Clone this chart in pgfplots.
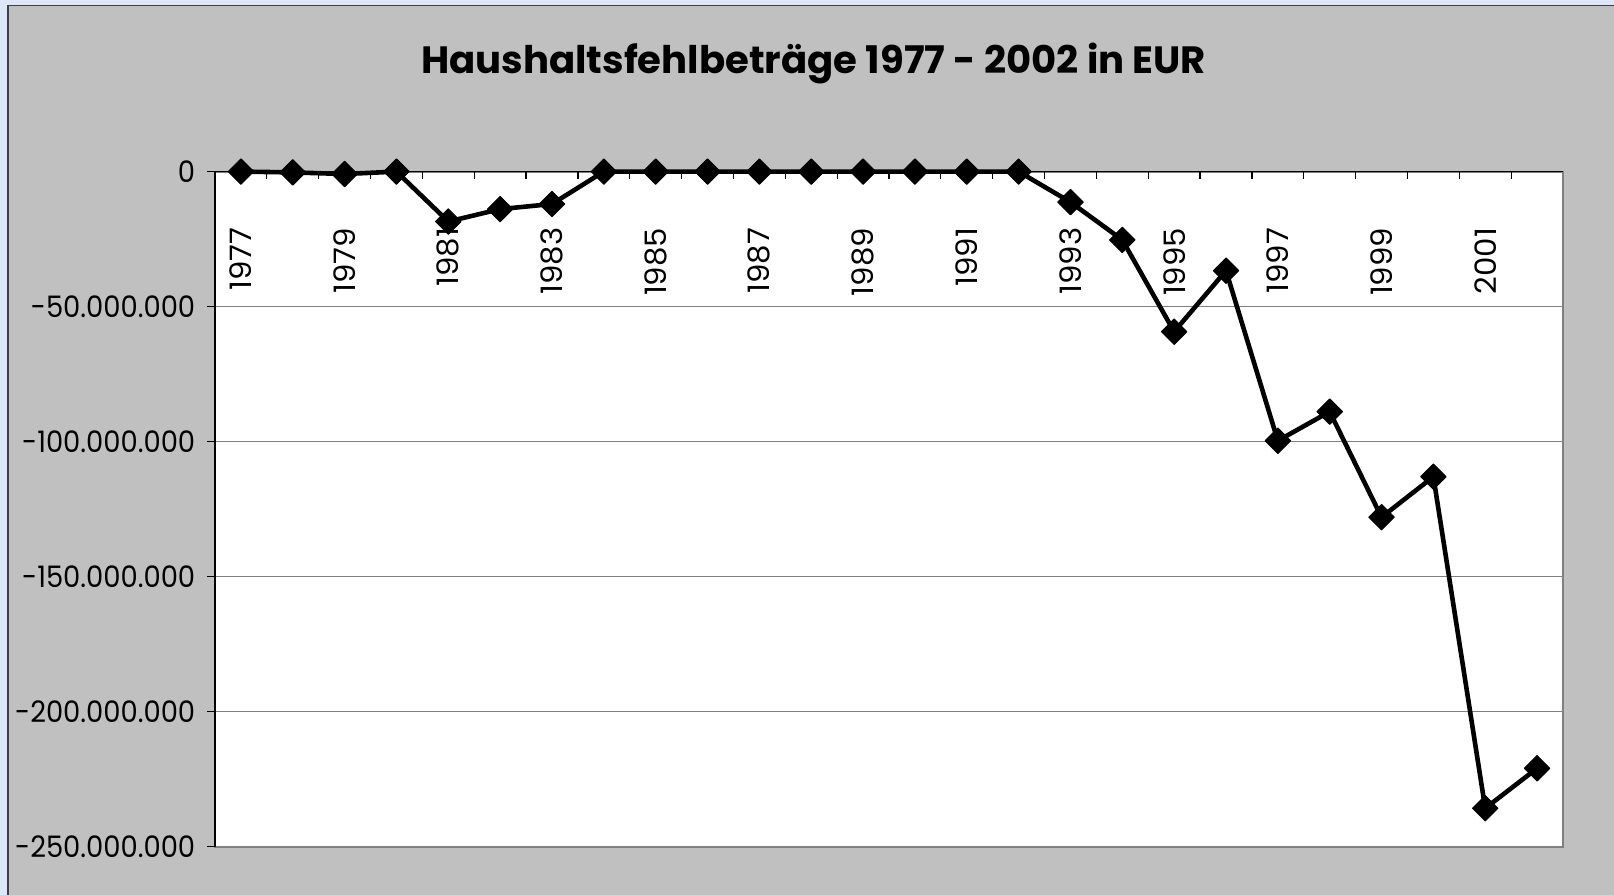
\documentclass[border=0pt]{standalone}
\usepackage{graphicx}
\usepackage{pgfplots}
\pgfplotsset{compat=1.18}
\usepackage{fontspec}
\setmainfont{Poppins}
\definecolor{chartgray}{HTML}{C0C0C0}
\definecolor{outerblue}{HTML}{DEE7F7}
\definecolor{gridgray}{HTML}{808080}
\newlength\mytw
\newlength\myth
\newcommand\yl[1]{\scalebox{\ystretch}[1]{\fontsize{\ysize pt}{\ysize pt}\selectfont #1}}
\newcommand\xl[1]{\scalebox{\xstretch}[1]{\fontsize{\ysize pt}{\ysize pt}\selectfont #1}}
\begin{document}
% label font: digit height 10.85bp
\settoheight\myth{\fontsize{10pt}{12pt}\selectfont 0}%
\pgfmathsetmacro\ysize{10/\myth*10.85*1.00375}%
\settowidth\mytw{\fontsize{\ysize pt}{\ysize pt}\selectfont -250.000.000}%
\pgfmathsetmacro\ystretch{90*1.00375/\mytw}%
\settowidth\mytw{\fontsize{\ysize pt}{\ysize pt}\selectfont 1977}%
\pgfmathsetmacro\xstretch{31.5*1.00375/\mytw}%
% title: cap height 13.35bp, width 392.5bp
\settoheight\myth{\fontsize{10pt}{12pt}\selectfont\bfseries H}%
\pgfmathsetmacro\tsize{10/\myth*13.35*1.00375}%
\settowidth\mytw{\fontsize{\tsize pt}{\tsize pt}\selectfont\bfseries Haushaltsfehlbeträge 1977 - 2002 in EUR}%
\pgfmathsetmacro\tstretch{392.5*1.00375/\mytw}%
\begin{tikzpicture}
\useasboundingbox (-107.5bp,-24.2bp) rectangle (699.5bp,423.3bp);
\fill[outerblue] (-107.5bp,-24.2bp) rectangle (699.5bp,423.3bp);
\fill[chartgray] (-103.5bp,-24.2bp) rectangle (699.5bp,420.45bp);
\draw[line width=0.6bp, black!75] (-103.5bp,-24.2bp) -- (-103.5bp,420.45bp) -- (699.5bp,420.45bp);
\begin{axis}[
  at={(0,0)}, anchor=south west,
  scale only axis, width=674bp, height=337.5bp,
  xmin=-0.5, xmax=25.5, ymin=-250000000, ymax=0,
  clip=false,
  scaled y ticks=false,
  axis background/.style={fill=white},
  axis line style={draw=gridgray, line width=1bp},
  ymajorgrids, grid style={gridgray, line width=0.6bp},
  ytick={-250000000,-200000000,-150000000,-100000000,-50000000,0},
  yticklabels={\yl{-250.000.000},\yl{-200.000.000},\yl{-150.000.000},\yl{-100.000.000},\yl{-50.000.000},\yl{0}},
  xtick={0,2,...,24},
  xticklabels={\xl{1977},\xl{1979},\xl{1981},\xl{1983},\xl{1985},\xl{1987},\xl{1989},\xl{1991},\xl{1993},\xl{1995},\xl{1997},\xl{1999},\xl{2001}},
  xtick pos=upper, xticklabel pos=upper,
  ytick pos=left,
  tick align=outside, major tick length=4bp,
  ytick style={black, line width=0.6bp},
  xtick style={draw=none},
  yticklabel style={anchor=east, inner sep=0pt, xshift=-5.7bp},
  xticklabel style={yshift=-31.9bp, rotate=90, anchor=east, inner sep=0pt},
  /pgf/number format/assume math mode=true,
]
\draw[black, line width=0.6bp] (rel axis cs:0,0) -- (rel axis cs:0,1) -- (rel axis cs:1,1);
\pgfplotsinvokeforeach{0,...,24}{\draw[black, line width=0.6bp] (axis cs:#1.5,0) -- (axis cs:#1.5,-2700000);}
\addplot[black, line width=2.3bp, line join=round, mark=square*, mark size=4.5bp,
  mark options={rotate=45, solid, fill=black, line width=0.5bp}] coordinates {
  (0,0) (1,-300000) (2,-900000) (3,0) (4,-18500000) (5,-13900000) (6,-12000000)
  (7,0) (8,0) (9,0) (10,0) (11,0) (12,0) (13,0) (14,0) (15,0)
  (16,-11300000) (17,-25300000) (18,-59300000) (19,-36700000)
  (20,-99700000) (21,-88900000) (22,-128000000) (23,-113000000)
  (24,-235800000) (25,-221000000)
};
\end{axis}
\node[anchor=base, inner sep=0pt] at (299.25bp,386.65bp) {\scalebox{\tstretch}[1]{\fontsize{\tsize pt}{\tsize pt}\selectfont\bfseries Haushaltsfehlbeträge 1977 - 2002 in EUR}};
\end{tikzpicture}
\end{document}
